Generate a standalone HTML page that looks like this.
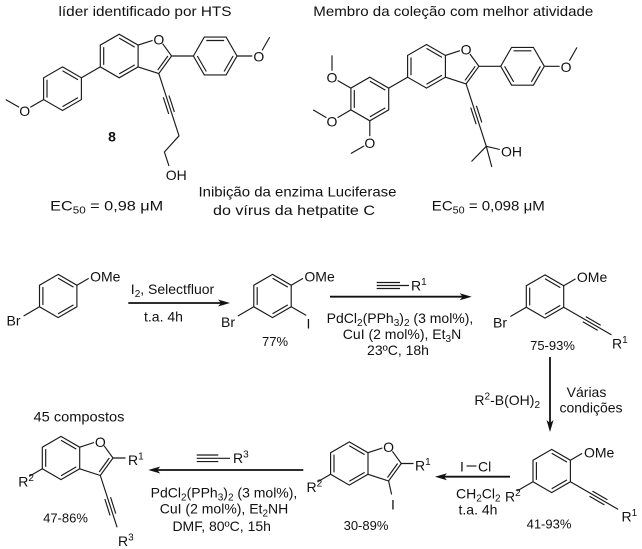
<!DOCTYPE html>
<html><head><meta charset="utf-8"><style>
html,body{margin:0;padding:0;background:#fff;}
svg{display:block;}
text{font-family:"Liberation Sans",Arial,sans-serif;font-size:14px;fill:#111;}
.p{font-size:13px;}
</style></head><body>
<svg width="642" height="549" viewBox="0 0 642 549" xmlns="http://www.w3.org/2000/svg">
<g stroke="#1a1a1a" stroke-width="1.15" fill="none">
<!-- left top molecule -->
<path d="M119.2,34.2 L138.1,45.1 L138.1,66.9 L119.2,77.8 L100.3,66.9 L100.3,45.1 Z"/>
<path d="M119.2,38.1 L134.7,47.1 M134.7,64.9 L119.2,73.9 M103.7,64.9 L103.7,47.1"/>
<path d="M138.1,45.1 L152.6,40.4 M162.6,43.7 L171.6,56 L158.8,73.6 L138.1,66.9 M167.9,56 L157.7,70.1"/>
<path d="M171.6,56 L193.4,56"/>
<path d="M193.4,56 L204.3,37.1 L226.1,37.1 L237.0,56 L226.1,74.9 L204.3,74.9 Z"/>
<path d="M206.3,40.5 L224.1,40.5 M233.1,56 L224.1,71.5 M206.3,71.5 L197.3,56"/>
<path d="M237,56 L252.3,56 M262.1,50.4 L269.7,37.1"/>
<path d="M100.3,66.9 L81.4,77.8"/>
<path d="M62.5,66.9 L81.4,77.8 L81.4,99.6 L62.5,110.5 L43.6,99.6 L43.6,77.8 Z"/>
<path d="M62.5,70.8 L78.0,79.8 M78.0,97.6 L62.5,106.6 M47.0,97.6 L47.0,79.8"/>
<path d="M43.6,99.6 L30.3,107.3 M19.1,107.3 L5.8,99.6"/>
<path d="M158.8,73.6 L179.0,135.8 L164.4,152.0 L169.0,166.1"/>
<path d="M169.0,95.5 L174.4,112.1 M163.3,97.3 L168.7,113.9"/>
<!-- right top molecule -->
<path d="M426.5,44.5 L445.4,55.4 L445.4,77.2 L426.5,88.1 L407.6,77.2 L407.6,55.4 Z"/>
<path d="M426.5,48.4 L442.0,57.4 M442.0,75.2 L426.5,84.2 M411.0,75.2 L411.0,57.4"/>
<path d="M445.4,55.4 L459.9,50.7 M469.9,54.0 L478.9,66.3 L466.1,83.9 L445.4,77.2 M475.2,66.3 L465.0,80.4"/>
<path d="M478.9,66.3 L500.7,66.3"/>
<path d="M500.7,66.3 L511.6,47.4 L533.4,47.4 L544.3,66.3 L533.4,85.2 L511.6,85.2 Z"/>
<path d="M513.6,50.8 L531.4,50.8 M540.4,66.3 L531.4,81.8 M513.6,81.8 L504.6,66.3"/>
<path d="M544.3,66.3 L559.6,66.3 M569.4,60.7 L577.0,47.4"/>
<path d="M407.6,77.2 L388.7,88.1"/>
<path d="M369.8,77.2 L388.7,88.1 L388.7,109.9 L369.8,120.8 L350.9,109.9 L350.9,88.1 Z"/>
<path d="M369.8,81.1 L385.3,90.1 M385.3,107.9 L369.8,116.9 M354.3,107.9 L354.3,90.1"/>
<path d="M350.9,88.1 L337.6,80.5 M332.0,70.7 L332.0,55.4"/>
<path d="M350.9,109.9 L337.6,117.6 M326.4,117.6 L313.1,109.9"/>
<path d="M369.8,120.8 L369.8,136.1 M364.2,145.9 L350.9,153.5"/>
<path d="M466.1,83.9 L486.3,146.3"/>
<path d="M476.4,105.8 L481.8,122.4 M470.7,107.6 L476.1,124.2"/>
<path d="M486.3,146.3 L499.8,149.5 M486.3,146.3 L471.5,161.5 M486.3,146.3 L491.8,167"/>
<!-- ring 1 -->
<path d="M58.2,274.4 L76.9,285.2 L76.9,306.8 L58.2,317.6 L39.5,306.8 L39.5,285.2 Z"/>
<path d="M58.2,278.3 L73.5,287.1 M73.5,304.9 L58.2,313.7 M42.9,304.9 L42.9,287.1"/>
<path d="M76.9,285.2 L88.7,278.4 M39.5,306.8 L23.6,316.0"/>
<!-- ring 2 -->
<path d="M272.5,274.4 L291.2,285.2 L291.2,306.8 L272.5,317.6 L253.8,306.8 L253.8,285.2 Z"/>
<path d="M272.5,278.3 L287.8,287.1 M287.8,304.9 L272.5,313.7 M257.2,304.9 L257.2,287.1"/>
<path d="M291.2,285.2 L303.0,278.4 M253.8,306.8 L237.9,316.0 M291.2,306.8 L306.2,315.4"/>
<!-- ring 3 -->
<path d="M545,274.9 L563.7,285.7 L563.7,307.3 L545,318.1 L526.3,307.3 L526.3,285.7 Z"/>
<path d="M545,278.8 L560.3,287.6 M560.3,305.4 L545,314.2 M529.7,305.4 L529.7,287.6"/>
<path d="M563.7,285.7 L575.5,278.9 M526.3,307.3 L510.4,316.5"/>
<path d="M563.7,307.3 L611.5,334.9 M582.8,321.8 L597.7,330.4 M585.8,316.6 L600.7,325.2"/>
<!-- ring 4 -->
<path d="M551.7,449.4 L570.4,460.2 L570.4,481.8 L551.7,492.6 L533.0,481.8 L533.0,460.2 Z"/>
<path d="M551.7,453.3 L567.0,462.1 M567.0,479.9 L551.7,488.7 M536.4,479.9 L536.4,462.1"/>
<path d="M570.4,460.2 L582.2,453.4 M533.0,481.8 L517,491"/>
<path d="M570.4,481.8 L618.2,509.4 M589.5,496.3 L604.4,504.9 M592.5,491.1 L607.4,499.7"/>
<!-- product 5 -->
<path d="M349.3,441.9 L368.0,452.7 L368.0,474.3 L349.3,485.1 L330.6,474.3 L330.6,452.7 Z"/>
<path d="M349.3,445.8 L364.6,454.6 M364.6,472.4 L349.3,481.2 M334.0,472.4 L334.0,454.6"/>
<path d="M368.0,452.7 L382.4,448.0 M392.4,451.3 L401.3,463.5 L388.6,481.0 L368.0,474.3 M397.6,463.5 L387.5,477.5"/>
<path d="M401.3,463.5 L413.5,463.5 M388.6,481.0 L391.6,494.5 M330.6,474.3 L317.5,481.9"/>
<!-- final product -->
<path d="M61,436.4 L79.7,447.2 L79.7,468.8 L61,479.6 L42.3,468.8 L42.3,447.2 Z"/>
<path d="M61,440.3 L76.3,449.1 M76.3,466.9 L61,475.7 M45.7,466.9 L45.7,449.1"/>
<path d="M79.7,447.2 L94.1,442.5 M104.1,445.8 L113.0,458 L100.3,475.5 L79.7,468.8 M109.3,458 L99.2,472.0"/>
<path d="M113,458 L125.5,458 M42.3,468.8 L29.2,476.4"/>
<path d="M100.3,475.5 L117.1,527.3 M110.55,497.2 L115.75,513.6 M104.85,499.0 L110.05,515.4"/>
<!-- reagent alkynes -->
<path d="M376.7,282.5 L400,282.5 M376.7,285.5 L409,285.5 M376.7,288.5 L400,288.5"/>
<path d="M196.7,455 L218.3,455 M196.7,458.3 L230,458.3 M196.7,461.6 L218.3,461.6"/>
<path d="M466.5,466 L476.5,466"/>
</g>
<!-- arrows -->
<g stroke="#111" stroke-width="1.8" fill="none">
<path d="M128.3,303 L221,303"/>
<path d="M330,296.7 L462.7,296.7"/>
<path d="M550,357 L550,423"/>
<path d="M510,476.7 L444,476.7"/>
<path d="M303.3,470 L157.3,470"/>
</g>
<g fill="#111">
<polygon points="230,303 218,299.5 221,303 218,306.5"/>
<polygon points="471.7,296.7 459.7,293.2 462.7,296.7 459.7,300.2"/>
<polygon points="550,432 546.5,420 550,423 553.5,420"/>
<polygon points="435,476.7 447,473.2 444,476.7 447,480.2"/>
<polygon points="148.3,470 160.3,466.5 157.3,470 160.3,473.5"/>
</g>

<!-- top texts -->
<text x="145" y="16" text-anchor="middle" textLength="173" lengthAdjust="spacingAndGlyphs">líder identificado por HTS</text>
<text x="453.3" y="16" text-anchor="middle" textLength="280" lengthAdjust="spacingAndGlyphs">Membro da coleção com melhor atividade</text>
<text x="158.8" y="44.5" text-anchor="middle">O</text>
<text x="258.8" y="61.5" text-anchor="middle">O</text>
<text x="24.7" y="116" text-anchor="middle">O</text>
<text x="165.8" y="180">OH</text>
<text x="112" y="141.5" text-anchor="middle" font-weight="bold">8</text>
<text x="466.1" y="54.5" text-anchor="middle">O</text>
<text x="566.1" y="71.8" text-anchor="middle">O</text>
<text x="332" y="82.7" text-anchor="middle">O</text>
<text x="332" y="126.3" text-anchor="middle">O</text>
<text x="369.8" y="148.1" text-anchor="middle">O</text>
<text x="501" y="156.5">OH</text>
<text x="297.5" y="196.7" text-anchor="middle" textLength="198" lengthAdjust="spacingAndGlyphs">Inibição da enzima Luciferase</text>
<text x="294" y="215" text-anchor="middle" textLength="162" lengthAdjust="spacingAndGlyphs">do vírus da hetpatite C</text>
<text x="106.7" y="210.7" text-anchor="middle" textLength="113" lengthAdjust="spacingAndGlyphs">EC<tspan dy="3" font-size="10">50</tspan><tspan dy="-3"> = 0,98 μM</tspan></text>
<text x="488.3" y="210.7" text-anchor="middle" textLength="113" lengthAdjust="spacingAndGlyphs">EC<tspan dy="3" font-size="10">50</tspan><tspan dy="-3"> = 0,098 μM</tspan></text>

<!-- row 1 -->
<text x="90.1" y="281.5">OMe</text>
<text x="6.5" y="325.5">Br</text>
<text x="172.5" y="294" text-anchor="middle">I<tspan dy="3" font-size="10">2</tspan><tspan dy="-3">, Selectfluor</tspan></text>
<text x="163.5" y="321.5" text-anchor="middle">t.a. 4h</text>
<text x="304.4" y="281.5">OMe</text>
<text x="221" y="327">Br</text>
<text x="306.5" y="328.5">I</text>
<text class="p" x="275" y="346" text-anchor="middle">77%</text>
<text x="411" y="290.5">R<tspan dy="-5.5" font-size="10">1</tspan></text>
<text x="400" y="323" text-anchor="middle">PdCl<tspan dy="3" font-size="10">2</tspan><tspan dy="-3">(PPh</tspan><tspan dy="3" font-size="10">3</tspan><tspan dy="-3">)</tspan><tspan dy="3" font-size="10">2</tspan><tspan dy="-3"> (3 mol%),</tspan></text>
<text x="402" y="339" text-anchor="middle">CuI (2 mol%), Et<tspan dy="3" font-size="10">3</tspan><tspan dy="-3">N</tspan></text>
<text x="398" y="355" text-anchor="middle">23ºC, 18h</text>
<text x="576.9" y="282">OMe</text>
<text x="493" y="327.5">Br</text>
<text x="612" y="348.5">R<tspan dy="-5.5" font-size="10">1</tspan></text>
<text class="p" x="552.5" y="350" text-anchor="middle">75-93%</text>

<!-- vertical arrow labels -->
<text x="540" y="405" text-anchor="end">R<tspan dy="-5.5" font-size="10">2</tspan><tspan dy="5.5">-B(OH)</tspan><tspan dy="3" font-size="10">2</tspan></text>
<text x="586.5" y="397" text-anchor="middle">Várias</text>
<text x="591" y="412.5" text-anchor="middle">condições</text>

<!-- row 2 right -->
<text x="584" y="457.5">OMe</text>
<text x="505" y="501.5">R<tspan dy="-5.5" font-size="10">2</tspan></text>
<text x="621.5" y="521.5">R<tspan dy="-5.5" font-size="10">1</tspan></text>
<text class="p" x="549" y="528.5" text-anchor="middle">41-93%</text>
<text x="460" y="471.7">I</text>
<text x="478" y="471.7">Cl</text>
<text x="478.3" y="498.3" text-anchor="middle">CH<tspan dy="3" font-size="10">2</tspan><tspan dy="-3">Cl</tspan><tspan dy="3" font-size="10">2</tspan></text>
<text x="478" y="514.3" text-anchor="middle">t.a. 4h</text>

<!-- product 5 -->
<text x="388.6" y="452" text-anchor="middle">O</text>
<text x="415" y="470.5">R<tspan dy="-5.5" font-size="10">1</tspan></text>
<text x="393" y="509.5" text-anchor="middle">I</text>
<text x="306.5" y="492">R<tspan dy="-5.5" font-size="10">2</tspan></text>
<text class="p" x="366" y="530" text-anchor="middle">30-89%</text>

<!-- row 2 left -->
<text x="233" y="463">R<tspan dy="-5.5" font-size="10">3</tspan></text>
<text x="224" y="497.7" text-anchor="middle">PdCl<tspan dy="3" font-size="10">2</tspan><tspan dy="-3">(PPh</tspan><tspan dy="3" font-size="10">3</tspan><tspan dy="-3">)</tspan><tspan dy="3" font-size="10">2</tspan><tspan dy="-3"> (3 mol%),</tspan></text>
<text x="224" y="513.5" text-anchor="middle">CuI (2 mol%), Et<tspan dy="3" font-size="10">2</tspan><tspan dy="-3">NH</tspan></text>
<text x="221.7" y="531" text-anchor="middle">DMF,  80ºC, 15h</text>

<!-- final product -->
<text x="79" y="421.7" text-anchor="middle" textLength="91" lengthAdjust="spacingAndGlyphs">45 compostos</text>
<text x="100.3" y="447" text-anchor="middle">O</text>
<text x="128" y="465">R<tspan dy="-5.5" font-size="10">1</tspan></text>
<text x="18.3" y="486.7">R<tspan dy="-5.5" font-size="10">2</tspan></text>
<text x="118" y="546">R<tspan dy="-5.5" font-size="10">3</tspan></text>
<text class="p" x="65.5" y="522.7" text-anchor="middle">47-86%</text>
</svg>
</body></html>
